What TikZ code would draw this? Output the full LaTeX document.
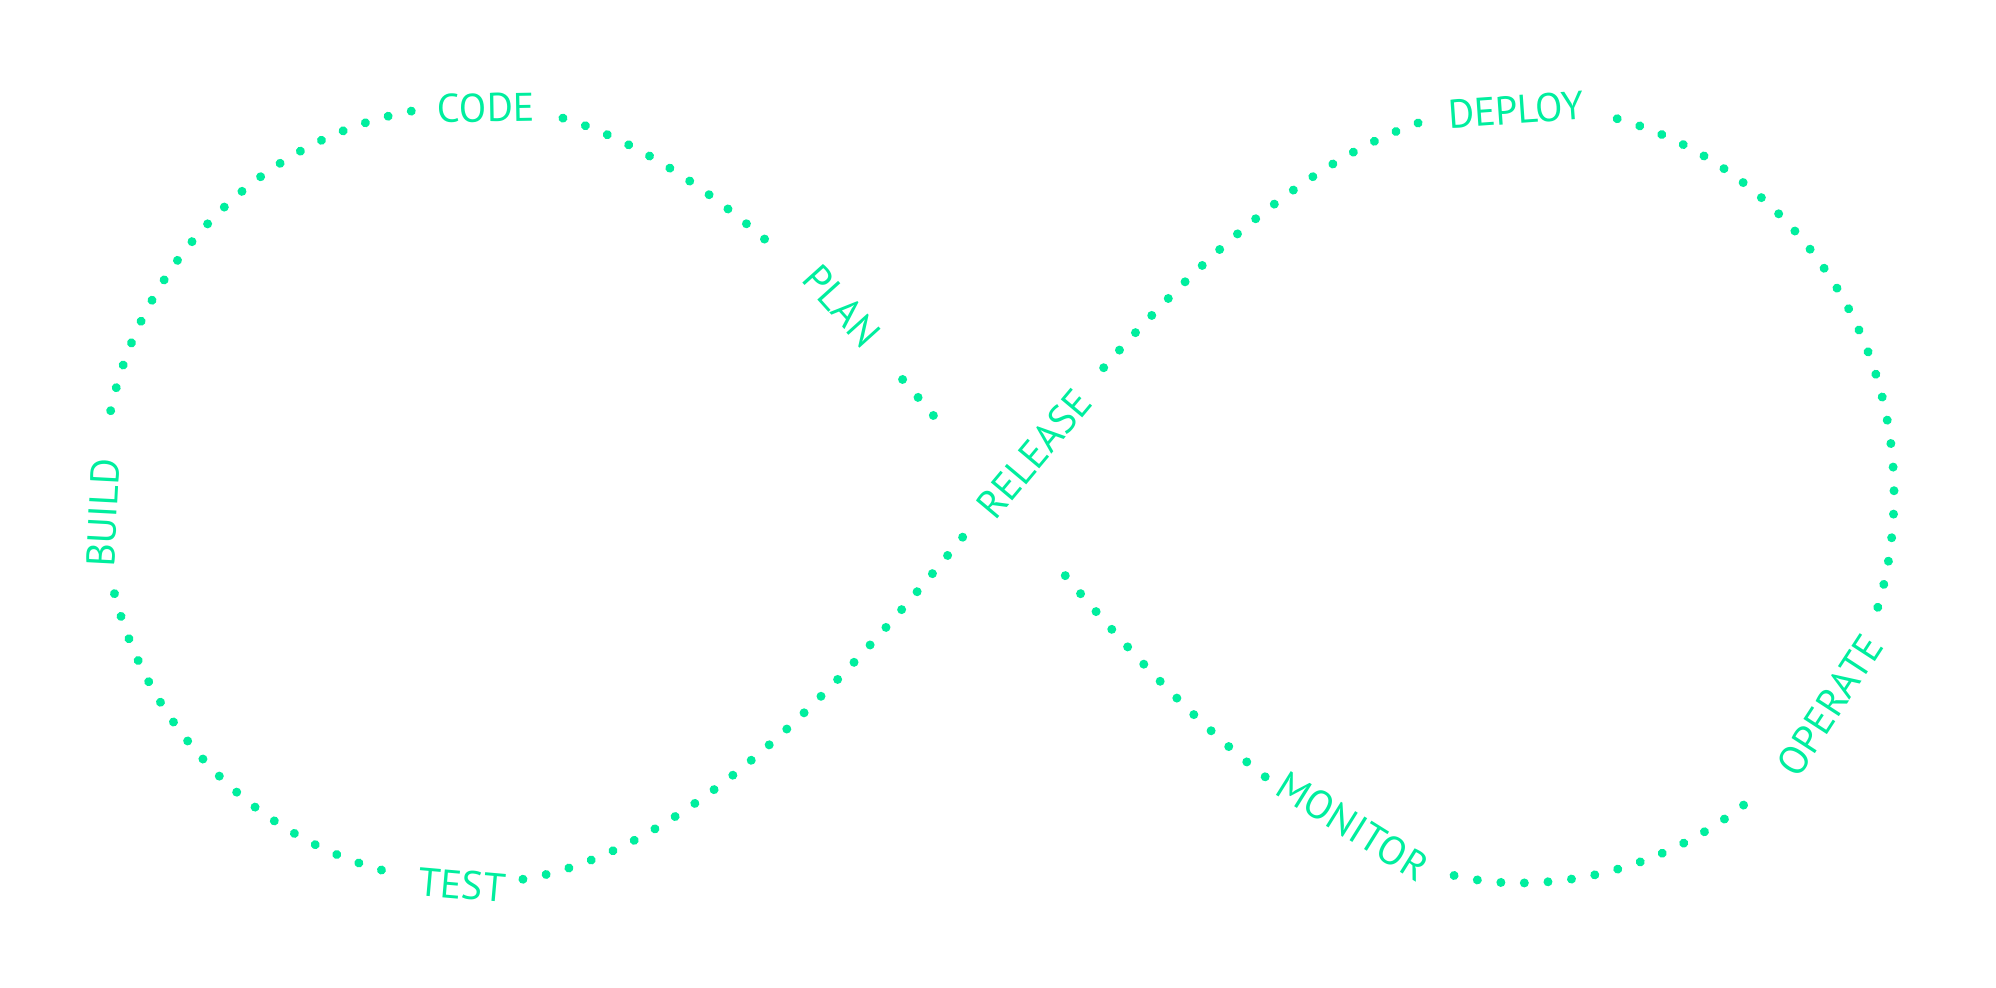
\documentclass[tikz,border=0pt]{standalone}
\usepackage{fontspec}
\setmainfont{PT Sans}
\usetikzlibrary{decorations.markings}
\definecolor{cmint}{HTML}{00EE9E}
\tikzset{
  stage/.style={text=cmint, inner sep=0pt, font=\fontsize{20}{24}\selectfont},
  /pgf/decoration/dotrun/.style 2 args={mark=between positions #1 and #2 step 11.83pt with {\fill[cmint] (0,0) circle (2.25pt);}},
}

\begin{document}
\begin{tikzpicture}[x=0.5pt, y=-0.5pt]
  \useasboundingbox (0,0) rectangle (1996,988);
  % the loop, walked from the crossing: plan, code, build, test, release, deploy, operate, monitor
  \path[decorate, decoration={markings,
      dotrun={50.85pt}{75.5pt}, dotrun={173.05pt}{291.5pt}, dotrun={368.15pt}{594pt},
      dotrun={685.35pt}{887.5pt}, dotrun={958pt}{1242.5pt}, dotrun={1352.35pt}{1554pt},
      dotrun={1654.85pt}{1963.5pt}, dotrun={2083.9pt}{2239pt}, dotrun={2345.1pt}{2488pt}}]
    (998,494) coordinate (cross)
    .. controls (896.2,370.5) and (693,105) .. (478,105) coordinate (topL)
    .. controls (271,105) and (102,279) .. (102,494) coordinate (farL)
    .. controls (102,709) and (271,883) .. (478,883) coordinate (botL)
    .. controls (693,883) and (896.2,617.5) .. (cross)
    .. controls (1099.8,370.5) and (1303,105) .. (1518,105) coordinate (topR)
    .. controls (1725,105) and (1894,279) .. (1894,494) coordinate (farR)
    .. controls (1894,709) and (1725,883) .. (1518,883) coordinate (botR)
    .. controls (1303,883) and (1099.8,617.5) .. (cross);
  \foreach \id/\txt/\x/\y/\ang in {
     plan/PLAN/842/306/-48, code/CODE/486/108/1, build/BUILD/103/513/87,
     test/TEST/462/885/-5, release/RELEASE/1034/454/50, deploy/DEPLOY/1516/110/4,
     operate/OPERATE/1830/705/57, monitor/MONITOR/1353/826/-32} {
    \node[stage, rotate=\ang] (\id) at (\x,\y) {\txt};
  }
\end{tikzpicture}
\end{document}
